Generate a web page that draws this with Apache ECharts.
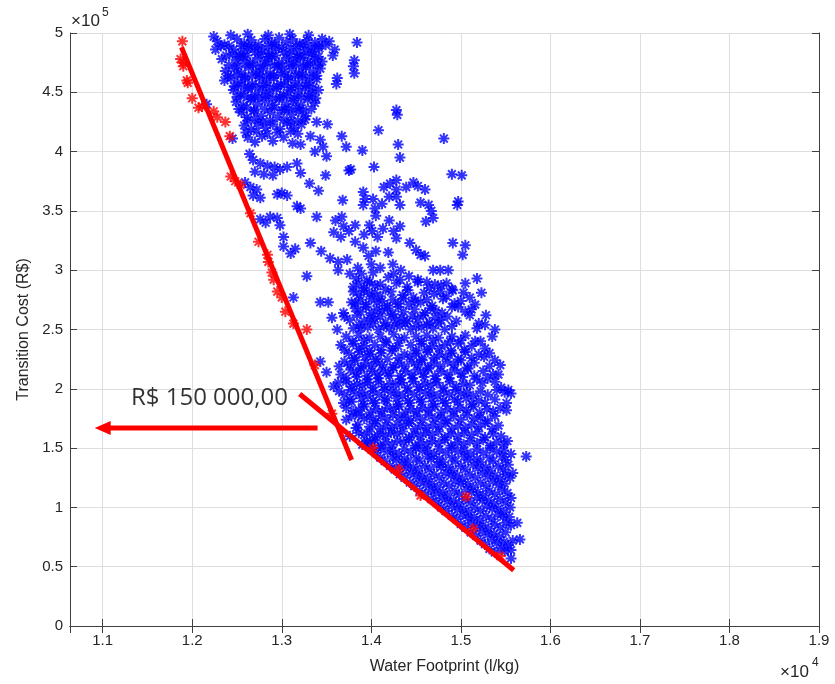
<!DOCTYPE html>
<html><head><meta charset="utf-8">
<script src="https://cdn.jsdelivr.net/npm/echarts@6/dist/echarts.min.js"></script>
<style>html,body{margin:0;padding:0;background:#fff}#c{width:835px;height:684px}</style>
</head><body><div id="c"></div>
<script>
// x in units of 1e4 l/kg, y in units of 1e5 R$
const xTickLabels = ['1.1','1.2','1.3','1.4','1.5','1.6','1.7','1.8','1.9'];
const yTickLabels = ['0','0.5','1','1.5','2','2.5','3','3.5','4','4.5','5'];

const blueUpper = [
[1.224,4.97],[1.243,4.98],[1.262,4.99],[1.285,4.98],[1.309,4.99],[1.330,4.98],
[1.228,4.93],[1.236,4.90],[1.250,4.95],[1.258,4.91],[1.266,4.94],[1.274,4.90],[1.281,4.95],[1.289,4.92],[1.297,4.96],[1.305,4.92],[1.312,4.95],[1.320,4.91],[1.328,4.94],[1.337,4.92],[1.345,4.95],[1.353,4.93],[1.384,4.92],
[1.226,4.86],[1.246,4.86],[1.254,4.83],[1.262,4.87],[1.270,4.84],[1.278,4.86],[1.286,4.83],[1.294,4.87],[1.302,4.84],[1.310,4.87],[1.318,4.83],[1.326,4.86],[1.334,4.84],[1.342,4.87],[1.359,4.86],[1.357,4.81],
[1.233,4.78],[1.249,4.77],[1.257,4.80],[1.265,4.75],[1.273,4.79],[1.281,4.76],[1.289,4.80],[1.297,4.75],[1.305,4.79],[1.313,4.76],[1.321,4.79],[1.329,4.75],[1.337,4.78],[1.345,4.76],[1.381,4.77],[1.380,4.72],
[1.237,4.68],[1.247,4.70],[1.255,4.66],[1.263,4.71],[1.271,4.67],[1.279,4.70],[1.287,4.66],[1.295,4.71],[1.303,4.67],[1.311,4.70],[1.319,4.66],[1.327,4.71],[1.335,4.67],[1.343,4.70],[1.381,4.66],
[1.236,4.60],[1.243,4.62],[1.251,4.58],[1.259,4.61],[1.267,4.57],[1.275,4.62],[1.283,4.58],[1.291,4.62],[1.299,4.57],[1.307,4.61],[1.315,4.58],[1.323,4.62],[1.331,4.58],[1.339,4.61],[1.362,4.62],[1.361,4.57],
[1.246,4.52],[1.254,4.49],[1.262,4.53],[1.270,4.48],[1.278,4.52],[1.286,4.49],[1.294,4.53],[1.302,4.48],[1.310,4.52],[1.318,4.49],[1.326,4.53],[1.334,4.49],[1.341,4.52],
[1.249,4.42],[1.257,4.39],[1.265,4.44],[1.273,4.40],[1.281,4.43],[1.289,4.39],[1.297,4.44],[1.305,4.40],[1.313,4.43],[1.321,4.39],[1.329,4.44],[1.337,4.41],[1.216,4.40],
[1.255,4.33],[1.261,4.29],[1.269,4.34],[1.277,4.30],[1.287,4.33],[1.295,4.29],[1.303,4.35],[1.311,4.31],[1.319,4.34],[1.327,4.30],[1.339,4.25],[1.351,4.23],[1.428,4.35],[1.429,4.31],
[1.258,4.22],[1.266,4.19],[1.274,4.24],[1.282,4.20],[1.290,4.23],[1.298,4.19],[1.306,4.24],[1.314,4.20],[1.322,4.23],[1.408,4.18],[1.245,4.11],
[1.262,4.12],[1.270,4.08],[1.278,4.13],[1.290,4.09],[1.302,4.12],[1.312,4.07],[1.321,4.06],[1.332,4.13],[1.343,4.10],[1.367,4.13],[1.372,4.04],[1.346,4.04],[1.390,4.01],[1.430,4.06],[1.481,4.11],
[1.264,3.98],[1.268,3.93],[1.276,3.90],[1.284,3.88],[1.292,3.87],[1.298,3.85],[1.306,3.87],[1.317,3.90],[1.337,4.00],[1.350,3.96],[1.432,3.95],[1.403,3.87],[1.375,3.84],[1.270,3.83],[1.280,3.81],[1.290,3.80],[1.321,3.82],[1.349,3.80]
];

const blueUpperFill = [
[1.232,4.89],[1.241,4.89],[1.255,4.89],[1.263,4.89],[1.270,4.88],[1.285,4.89],[1.292,4.90],[1.300,4.88],[1.316,4.89],[1.324,4.90],[1.333,4.88],[1.341,4.89],[1.349,4.90],
[1.238,4.81],[1.245,4.82],[1.253,4.80],[1.261,4.81],[1.277,4.82],[1.285,4.80],[1.293,4.81],[1.309,4.82],[1.317,4.80],[1.325,4.81],[1.333,4.82],[1.341,4.80],
[1.241,4.73],[1.251,4.72],[1.259,4.74],[1.268,4.73],[1.276,4.72],[1.284,4.74],[1.292,4.73],[1.300,4.72],[1.308,4.74],[1.316,4.73],[1.324,4.72],[1.332,4.74],[1.340,4.73],
[1.240,4.64],[1.250,4.65],[1.259,4.63],[1.267,4.64],[1.275,4.65],[1.283,4.63],[1.291,4.64],[1.299,4.65],[1.307,4.63],[1.315,4.64],[1.323,4.65],[1.331,4.63],[1.339,4.64],
[1.247,4.55],[1.255,4.56],[1.263,4.54],[1.271,4.55],[1.279,4.56],[1.287,4.54],[1.295,4.55],[1.303,4.56],[1.311,4.54],[1.319,4.55],[1.327,4.56],[1.335,4.54],
[1.250,4.46],[1.258,4.47],[1.266,4.45],[1.274,4.46],[1.282,4.47],[1.290,4.45],[1.298,4.46],[1.306,4.47],[1.314,4.45],[1.322,4.46],[1.330,4.47],[1.338,4.45],
[1.252,4.36],[1.261,4.37],[1.269,4.35],[1.281,4.36],[1.292,4.37],[1.300,4.35],[1.308,4.36],[1.316,4.37],[1.324,4.35],[1.333,4.36],
[1.262,4.26],[1.270,4.27],[1.279,4.25],[1.287,4.26],[1.302,4.27],[1.310,4.25],[1.318,4.26],[1.326,4.27],
[1.260,4.16],[1.272,4.17],[1.284,4.15],[1.295,4.16],[1.310,4.17],[1.318,4.15]
];

const blueMiddle = [
[1.259,3.74],[1.265,3.70],[1.272,3.68],[1.268,3.63],[1.276,3.61],[1.295,3.64],[1.300,3.65],[1.306,3.63],[1.331,3.73],[1.341,3.67],[1.377,3.85],[1.490,3.81],[1.501,3.80],
[1.317,3.54],[1.321,3.52],[1.339,3.45],[1.287,3.45],[1.276,3.43],[1.282,3.40],[1.295,3.44],[1.298,3.38],[1.368,3.59],[1.391,3.66],[1.391,3.55],[1.393,3.60],[1.402,3.60],[1.404,3.52],[1.405,3.46],[1.414,3.70],[1.421,3.73],[1.428,3.76],[1.428,3.68],[1.428,3.62],[1.412,3.56],[1.420,3.62],[1.432,3.55],[1.439,3.70],[1.447,3.74],[1.452,3.71],[1.460,3.68],[1.455,3.57],[1.464,3.55],[1.467,3.50],[1.469,3.44],[1.461,3.41],[1.496,3.55],[1.497,3.58],[1.367,3.45],[1.369,3.37],[1.382,3.38],[1.360,3.42],[1.375,3.33],[1.382,3.24],[1.392,3.30],[1.401,3.33],[1.407,3.28],[1.413,3.35],[1.398,3.38],[1.420,3.42],[1.425,3.33],[1.428,3.27],[1.432,3.37],
[1.302,3.28],[1.302,3.20],[1.310,3.14],[1.315,3.18],[1.332,3.23],[1.344,3.16],[1.358,3.32],[1.366,3.28],[1.354,3.10],[1.363,3.07],[1.373,3.09],[1.391,3.19],[1.397,3.12],[1.405,3.16],[1.419,3.15],[1.443,3.23],[1.450,3.17],[1.455,3.13],[1.460,3.12],[1.491,3.23],[1.505,3.21],[1.502,3.13],[1.469,3.00],[1.477,3.00],[1.486,3.00],[1.424,3.05],[1.433,3.00],[1.442,2.95],[1.452,2.92],[1.462,2.90],[1.410,3.02],[1.400,3.05],[1.385,3.02],[1.376,2.97],[1.363,3.00],[1.328,2.95],[1.518,2.93],[1.505,2.89],[1.523,2.81],
[1.313,2.77],[1.343,2.73],[1.352,2.73],[1.369,2.64],[1.378,2.73],[1.362,2.50],[1.388,2.51],[1.356,2.60],
[1.383,2.93],[1.395,2.91],[1.419,2.94],[1.432,2.92],
[1.380,2.86],[1.392,2.85],[1.404,2.87],[1.416,2.84],[1.440,2.86],[1.465,2.85],[1.478,2.87],[1.490,2.84],
[1.386,2.79],[1.398,2.80],[1.410,2.78],[1.435,2.79],[1.447,2.77],[1.470,2.80],[1.484,2.78],[1.497,2.69],[1.510,2.77],
[1.382,2.72],[1.394,2.71],[1.406,2.73],[1.418,2.70],[1.430,2.72],[1.442,2.71],[1.455,2.73],[1.468,2.70],[1.493,2.72],[1.516,2.71],
[1.388,2.65],[1.400,2.64],[1.412,2.66],[1.424,2.63],[1.436,2.65],[1.460,2.64],[1.472,2.66],[1.479,2.64],[1.505,2.65],[1.528,2.62],
[1.376,2.58],[1.392,2.57],[1.404,2.59],[1.416,2.56],[1.428,2.58],[1.440,2.57],[1.452,2.59],[1.465,2.56],[1.478,2.58],[1.495,2.57],[1.520,2.55],
[1.380,2.51],[1.396,2.52],[1.408,2.50],[1.420,2.51],[1.432,2.53],[1.444,2.50],[1.456,2.52],[1.469,2.51],[1.482,2.50],[1.518,2.51],[1.538,2.50]
];

const blueMiddleFill = [
[1.389,2.97],[1.402,2.98],[1.425,2.97],
[1.386,2.89],[1.398,2.90],[1.410,2.88],[1.428,2.89],[1.452,2.90],[1.471,2.88],[1.484,2.89],
[1.380,2.82],[1.392,2.83],[1.404,2.81],[1.422,2.82],[1.441,2.83],[1.459,2.81],[1.477,2.82],[1.491,2.83],[1.503,2.81],
[1.388,2.75],[1.400,2.76],[1.412,2.74],[1.424,2.75],[1.436,2.76],[1.449,2.74],[1.462,2.75],[1.480,2.76],[1.500,2.74],
[1.382,2.68],[1.394,2.69],[1.406,2.67],[1.418,2.68],[1.430,2.69],[1.448,2.67],[1.466,2.68],[1.490,2.69],[1.512,2.67],
[1.370,2.61],[1.384,2.62],[1.398,2.60],[1.410,2.61],[1.422,2.62],[1.434,2.60],[1.446,2.61],[1.458,2.62],[1.471,2.60],[1.485,2.61],[1.510,2.62],
[1.386,2.54],[1.402,2.55],[1.414,2.53],[1.426,2.54],[1.438,2.55],[1.450,2.53],[1.462,2.54],[1.475,2.55],[1.490,2.53],[1.527,2.54]
];

const blueLower = [
[1.372,2.44],[1.386,2.45],[1.398,2.43],[1.410,2.44],[1.425,2.46],[1.437,2.43],[1.450,2.44],[1.462,2.45],[1.475,2.43],[1.490,2.44],[1.505,2.45],[1.522,2.40],[1.535,2.44],
[1.366,2.37],[1.380,2.38],[1.392,2.36],[1.404,2.37],[1.417,2.39],[1.430,2.36],[1.444,2.37],[1.456,2.38],[1.468,2.36],[1.482,2.37],[1.497,2.38],[1.512,2.36],
[1.375,2.30],[1.387,2.31],[1.399,2.29],[1.411,2.30],[1.423,2.32],[1.437,2.29],[1.450,2.30],[1.463,2.31],[1.476,2.29],[1.490,2.30],[1.505,2.31],[1.520,2.29],[1.532,2.30],
[1.343,2.23],[1.370,2.23],[1.382,2.24],[1.394,2.22],[1.406,2.23],[1.418,2.25],[1.431,2.22],[1.445,2.23],[1.457,2.24],[1.470,2.22],[1.485,2.23],[1.500,2.24],[1.515,2.22],[1.538,2.24],
[1.350,2.14],[1.377,2.16],[1.389,2.17],[1.401,2.15],[1.413,2.16],[1.425,2.18],[1.438,2.15],[1.452,2.16],[1.464,2.17],[1.478,2.15],[1.493,2.16],[1.508,2.17],[1.525,2.15],[1.542,2.12],
[1.372,2.09],[1.384,2.10],[1.396,2.08],[1.408,2.09],[1.420,2.11],[1.433,2.08],[1.446,2.09],[1.459,2.10],[1.472,2.08],[1.487,2.09],[1.502,2.10],[1.518,2.08],[1.530,2.09],
[1.358,2.02],[1.378,2.02],[1.390,2.03],[1.402,2.01],[1.414,2.02],[1.427,2.04],[1.440,2.01],[1.453,2.02],[1.466,2.03],[1.480,2.01],[1.495,2.02],[1.510,2.03],[1.545,2.01],[1.553,1.99],
[1.370,1.95],[1.383,1.96],[1.396,1.94],[1.409,1.95],[1.422,1.97],[1.435,1.94],[1.448,1.95],[1.461,1.96],[1.474,1.94],[1.487,1.95],[1.500,1.96],[1.514,1.94],[1.530,1.95],[1.556,1.96],
[1.369,1.88],[1.378,1.89],[1.391,1.87],[1.404,1.88],[1.417,1.90],[1.430,1.87],[1.443,1.88],[1.456,1.89],[1.469,1.87],[1.483,1.88],[1.497,1.89],[1.512,1.87],[1.527,1.88],[1.551,1.88],
[1.380,1.81],[1.386,1.82],[1.399,1.80],[1.412,1.81],[1.425,1.83],[1.438,1.80],[1.451,1.81],[1.464,1.82],[1.478,1.80],[1.492,1.81],[1.506,1.82],[1.521,1.80],[1.536,1.81],[1.551,1.82],
[1.372,1.74],[1.392,1.75],[1.405,1.73],[1.418,1.74],[1.431,1.76],[1.444,1.73],[1.457,1.74],[1.471,1.75],[1.485,1.73],[1.500,1.74],[1.515,1.75],[1.530,1.73],
[1.383,1.67],[1.398,1.68],[1.410,1.66],[1.423,1.67],[1.436,1.69],[1.449,1.66],[1.462,1.67],[1.476,1.68],[1.490,1.66],[1.505,1.67],[1.520,1.68],[1.535,1.66],
[1.376,1.60],[1.392,1.61],[1.404,1.59],[1.416,1.60],[1.429,1.62],[1.442,1.59],[1.455,1.60],[1.468,1.61],[1.482,1.59],[1.497,1.60],[1.512,1.61],[1.527,1.59],[1.545,1.60],
[1.390,1.53],[1.398,1.54],[1.410,1.52],[1.423,1.53],[1.436,1.55],[1.449,1.52],[1.462,1.53],[1.475,1.54],[1.489,1.52],[1.503,1.53],[1.518,1.54],[1.533,1.52],[1.548,1.53],
[1.405,1.46],[1.418,1.47],[1.431,1.45],[1.444,1.46],[1.457,1.48],[1.470,1.45],[1.483,1.46],[1.497,1.47],[1.511,1.45],[1.525,1.46],[1.540,1.47],[1.556,1.45],[1.573,1.43],
[1.415,1.39],[1.428,1.40],[1.441,1.38],[1.454,1.39],[1.467,1.41],[1.480,1.38],[1.494,1.39],[1.508,1.40],[1.522,1.38],[1.536,1.39],[1.550,1.40],
[1.426,1.32],[1.439,1.33],[1.452,1.31],[1.465,1.32],[1.478,1.34],[1.491,1.31],[1.505,1.32],[1.519,1.33],[1.533,1.31],[1.547,1.32],[1.558,1.29],
[1.437,1.25],[1.450,1.26],[1.463,1.24],[1.476,1.25],[1.489,1.27],[1.502,1.24],[1.516,1.25],[1.530,1.26],[1.544,1.24],[1.555,1.25],
[1.448,1.18],[1.461,1.19],[1.474,1.17],[1.487,1.18],[1.500,1.20],[1.514,1.17],[1.528,1.18],[1.542,1.19],
[1.460,1.11],[1.472,1.12],[1.485,1.10],[1.498,1.11],[1.512,1.13],[1.525,1.10],[1.538,1.11],[1.552,1.12],
[1.473,1.04],[1.485,1.05],[1.498,1.03],[1.511,1.04],[1.524,1.06],[1.537,1.03],[1.550,1.04],
[1.483,0.97],[1.496,0.98],[1.509,0.96],[1.522,0.97],[1.535,0.99],[1.548,0.96],
[1.495,0.90],[1.508,0.91],[1.521,0.89],[1.534,0.90],[1.547,0.92],[1.563,0.87],
[1.505,0.83],[1.518,0.84],[1.531,0.82],[1.544,0.83],[1.556,0.85],
[1.517,0.76],[1.530,0.77],[1.543,0.75],[1.566,0.73],
[1.527,0.69],[1.540,0.70],[1.553,0.68],
[1.538,0.62],[1.549,0.63],[1.556,0.57]
];

const blueLowerFill = [
[1.379,2.40],[1.392,2.41],[1.416,2.40],[1.431,2.41],[1.456,2.40],[1.469,2.41],[1.488,2.40],[1.500,2.41],[1.516,2.40],
[1.370,2.33],[1.386,2.34],[1.398,2.32],[1.411,2.33],[1.424,2.34],[1.450,2.32],[1.462,2.33],[1.476,2.34],[1.489,2.32],[1.504,2.33],[1.527,2.34],
[1.381,2.26],[1.393,2.27],[1.405,2.25],[1.430,2.26],[1.443,2.27],[1.456,2.25],[1.470,2.26],[1.483,2.27],[1.497,2.25],[1.512,2.26],[1.526,2.27],
[1.364,2.19],[1.376,2.20],[1.388,2.18],[1.400,2.19],[1.412,2.20],[1.424,2.18],[1.437,2.19],[1.451,2.20],[1.463,2.18],[1.477,2.19],[1.492,2.20],[1.507,2.18],[1.532,2.19],[1.544,2.20],
[1.366,2.12],[1.383,2.13],[1.395,2.11],[1.407,2.12],[1.419,2.13],[1.432,2.11],[1.445,2.12],[1.458,2.13],[1.471,2.11],[1.485,2.12],[1.500,2.13],[1.515,2.11],[1.536,2.12],
[1.363,2.05],[1.372,2.06],[1.384,2.04],[1.396,2.05],[1.408,2.06],[1.421,2.04],[1.434,2.05],[1.447,2.06],[1.460,2.04],[1.473,2.05],[1.488,2.06],[1.503,2.04],[1.524,2.05],[1.538,2.06],
[1.364,1.98],[1.377,1.99],[1.390,1.97],[1.402,1.98],[1.415,1.99],[1.428,1.97],[1.441,1.98],[1.454,1.99],[1.467,1.97],[1.481,1.98],[1.494,1.99],[1.507,1.97],[1.522,1.98],[1.540,1.99],[1.549,1.97],
[1.376,1.91],[1.389,1.92],[1.402,1.90],[1.415,1.91],[1.428,1.92],[1.441,1.90],[1.454,1.91],[1.467,1.92],[1.480,1.90],[1.493,1.91],[1.506,1.92],[1.520,1.90],[1.538,1.91],
[1.372,1.84],[1.392,1.85],[1.405,1.83],[1.418,1.84],[1.431,1.85],[1.444,1.83],[1.457,1.84],[1.471,1.85],[1.485,1.83],[1.499,1.84],[1.514,1.85],[1.529,1.83],[1.544,1.84],
[1.378,1.77],[1.386,1.78],[1.398,1.76],[1.411,1.77],[1.424,1.78],[1.437,1.76],[1.450,1.77],[1.464,1.78],[1.478,1.76],[1.492,1.77],[1.507,1.78],[1.522,1.76],[1.538,1.77],
[1.385,1.70],[1.404,1.71],[1.416,1.69],[1.429,1.70],[1.442,1.71],[1.455,1.69],[1.469,1.70],[1.483,1.71],[1.497,1.69],[1.512,1.70],[1.527,1.71],[1.542,1.69],
[1.386,1.63],[1.398,1.64],[1.410,1.62],[1.422,1.63],[1.435,1.64],[1.448,1.62],[1.461,1.63],[1.475,1.64],[1.489,1.62],[1.504,1.63],[1.519,1.64],[1.536,1.62],
[1.395,1.56],[1.404,1.57],[1.416,1.55],[1.429,1.56],[1.442,1.57],[1.455,1.55],[1.468,1.56],[1.482,1.57],[1.496,1.55],[1.510,1.56],[1.525,1.57],[1.540,1.55],[1.552,1.56],
[1.400,1.49],[1.411,1.50],[1.424,1.48],[1.437,1.49],[1.450,1.50],[1.463,1.48],[1.476,1.49],[1.490,1.50],[1.504,1.48],[1.518,1.49],[1.533,1.50],[1.548,1.48],
[1.410,1.42],[1.424,1.43],[1.437,1.41],[1.450,1.42],[1.463,1.43],[1.476,1.41],[1.490,1.42],[1.504,1.43],[1.518,1.41],[1.532,1.42],[1.546,1.43],
[1.421,1.35],[1.434,1.36],[1.447,1.34],[1.460,1.35],[1.473,1.36],[1.486,1.34],[1.500,1.35],[1.514,1.36],[1.528,1.34],[1.542,1.35],[1.553,1.36],
[1.432,1.28],[1.444,1.29],[1.457,1.27],[1.470,1.28],[1.483,1.29],[1.496,1.27],[1.510,1.28],[1.524,1.29],[1.538,1.27],[1.550,1.28],
[1.443,1.21],[1.455,1.22],[1.468,1.20],[1.481,1.21],[1.494,1.22],[1.508,1.20],[1.522,1.21],[1.536,1.22],[1.549,1.20],
[1.454,1.14],[1.467,1.15],[1.480,1.13],[1.493,1.14],[1.506,1.15],[1.519,1.13],[1.532,1.14],[1.546,1.15],
[1.467,1.07],[1.479,1.08],[1.492,1.06],[1.505,1.07],[1.518,1.08],[1.531,1.06],[1.544,1.07],[1.556,1.08],
[1.478,1.00],[1.490,1.01],[1.503,0.99],[1.516,1.00],[1.529,1.01],[1.542,0.99],[1.555,1.00],
[1.490,0.93],[1.502,0.94],[1.515,0.92],[1.528,0.93],[1.541,0.94],[1.554,0.92],
[1.500,0.86],[1.512,0.87],[1.525,0.85],[1.538,0.86],[1.551,0.87],
[1.511,0.79],[1.524,0.80],[1.537,0.78],[1.550,0.79],
[1.522,0.72],[1.535,0.73],[1.548,0.71],[1.558,0.72],
[1.532,0.65],[1.545,0.66],[1.556,0.64]
];

const redFrontier = [
[1.189,4.93],[1.187,4.78],[1.190,4.72],[1.190,4.75],[1.195,4.58],[1.194,4.60],[1.200,4.45],[1.207,4.37],[1.211,4.38],[1.224,4.34],[1.228,4.29],[1.237,4.25],[1.242,4.13],[1.243,3.79],[1.248,3.75],[1.254,3.72],[1.265,3.48],[1.274,3.24],[1.284,3.13],[1.285,3.07],[1.289,2.98],[1.291,2.92],[1.295,2.82],[1.300,2.77],[1.304,2.65],[1.313,2.55],[1.328,2.50],[1.337,2.20],[1.356,1.79],[1.402,1.50],[1.431,1.32],[1.455,1.10],[1.506,1.09],[1.514,0.82],[1.544,0.59]
];

const frontierLine1 = [[1.188,4.88],[1.378,1.40]];
const frontierLine2 = [[1.320,1.956],[1.559,0.47]];
const arrowLine = [[1.340,1.67],[1.100,1.67]];
const annotationText = 'R$ 150 000,00';
const annotationAt = [1.131,1.92];

const X_MIN = 1.0635, X_MAX = 1.9, Y_MIN = 0, Y_MAX = 5;
const STAR = 'path://M0,-5L0,5M-5,0L5,0M-3.54,-3.54L3.54,3.54M-3.54,3.54L3.54,-3.54';
const AX = '#404040', TXT = '#262626', FONT = '"Liberation Sans", Arial, sans-serif';

const chart = echarts.init(document.getElementById('c'), null, {renderer: 'canvas'});

function starSeries(name, data, color) {
  return {
    name, type: 'scatter', data, symbol: STAR, symbolSize: 11,
    itemStyle: {color: 'rgba(0,0,0,0)', borderColor: color, borderWidth: 2},
    emphasis: {disabled: true}, silent: true, z: 3
  };
}
function lineSeries(name, data, z) {
  return {
    name, type: 'line', data, symbol: 'none', silent: true, z,
    lineStyle: {color: '#ff0000', width: 5, cap: 'butt'}
  };
}

const xFmt = v => {
  const s = (Math.round(v * 10) / 10).toFixed(1);
  return (Math.abs(v * 10 - Math.round(v * 10)) < 1e-6 && xTickLabels.includes(s)) ? s : '';
};
const yFmt = v => {
  const s = String(Math.round(v * 10) / 10);
  return yTickLabels.includes(s) ? s : '';
};

chart.setOption({
  animation: false,
  backgroundColor: '#ffffff',
  grid: {left: 70, right: 16, top: 33, bottom: 58, containLabel: false},
  xAxis: [{
    type: 'value', min: X_MIN, max: X_MAX, splitNumber: 8, position: 'bottom',
    name: 'Water Footprint (l/kg)', nameLocation: 'middle', nameGap: 33,
    nameTextStyle: {color: TXT, fontSize: 16, fontFamily: FONT},
    axisLine: {show: true, lineStyle: {color: AX, width: 1}},
    axisTick: {show: true, inside: true, length: 7, lineStyle: {color: AX}},
    axisLabel: {formatter: xFmt, color: TXT, fontSize: 15, fontFamily: FONT, margin: 7, showMinLabel: false},
    splitLine: {show: true, lineStyle: {color: '#dedede', width: 1}}
  }, {
    type: 'value', min: X_MIN, max: X_MAX, splitNumber: 8, position: 'top',
    axisLine: {show: true, lineStyle: {color: AX, width: 1}},
    axisTick: {show: true, inside: true, length: 7, lineStyle: {color: AX}},
    axisLabel: {show: false}, splitLine: {show: false}
  }],
  yAxis: [{
    type: 'value', min: Y_MIN, max: Y_MAX, interval: 0.5, position: 'left',
    name: 'Transition Cost (R$)', nameLocation: 'middle', nameGap: 38,
    nameTextStyle: {color: TXT, fontSize: 16, fontFamily: FONT},
    axisLine: {show: true, lineStyle: {color: AX, width: 1}},
    axisTick: {show: true, inside: true, length: 7, lineStyle: {color: AX}},
    axisLabel: {formatter: yFmt, color: TXT, fontSize: 15, fontFamily: FONT, margin: 7},
    splitLine: {show: true, lineStyle: {color: '#dedede', width: 1}}
  }, {
    type: 'value', min: Y_MIN, max: Y_MAX, interval: 0.5, position: 'right',
    axisLine: {show: true, lineStyle: {color: AX, width: 1}},
    axisTick: {show: true, inside: true, length: 7, lineStyle: {color: AX}},
    axisLabel: {show: false}, splitLine: {show: false}
  }],
  series: [
    starSeries('solutions-upper', blueUpper, '#0000ff'),
    starSeries('solutions-upper-fill', blueUpperFill, '#0000ff'),
    starSeries('solutions-middle', blueMiddle, '#0000ff'),
    starSeries('solutions-middle-fill', blueMiddleFill, '#0000ff'),
    starSeries('solutions-lower', blueLower, '#0000ff'),
    starSeries('solutions-lower-fill', blueLowerFill, '#0000ff'),
    starSeries('frontier', redFrontier, '#ff0000'),
    lineSeries('line1', frontierLine1, 5),
    lineSeries('line2', frontierLine2, 5),
    {
      name: 'arrow', type: 'line', silent: true, z: 5,
      data: [
        {value: arrowLine[0], symbol: 'none'},
        {value: arrowLine[1], symbol: 'triangle', symbolSize: [14, 16], symbolRotate: 90}
      ],
      showSymbol: true, showAllSymbol: true,
      itemStyle: {color: '#ff0000'},
      lineStyle: {color: '#ff0000', width: 5, cap: 'butt'}
    },
    {
      name: 'annotation', type: 'scatter', silent: true, z: 6,
      data: [annotationAt], symbolSize: 1, itemStyle: {color: 'rgba(0,0,0,0)'},
      label: {show: true, position: 'right', distance: 0, formatter: annotationText,
        color: '#000000', fontSize: 24, fontFamily: '"Open Sans", sans-serif', verticalAlign: 'middle',
        textBorderWidth: 0}
    }
  ],
  graphic: [
    {type: 'text', left: 71, top: 13, style: {text: '×10', fontSize: 17, fontFamily: FONT, fill: TXT}},
    {type: 'text', left: 102, top: 7, style: {text: '5', fontSize: 12, fontFamily: FONT, fill: TXT}},
    {type: 'text', left: 780, top: 664, style: {text: '×10', fontSize: 17, fontFamily: FONT, fill: TXT}},
    {type: 'text', left: 812, top: 657, style: {text: '4', fontSize: 12, fontFamily: FONT, fill: TXT}}
  ]
});
</script>
</body></html>
